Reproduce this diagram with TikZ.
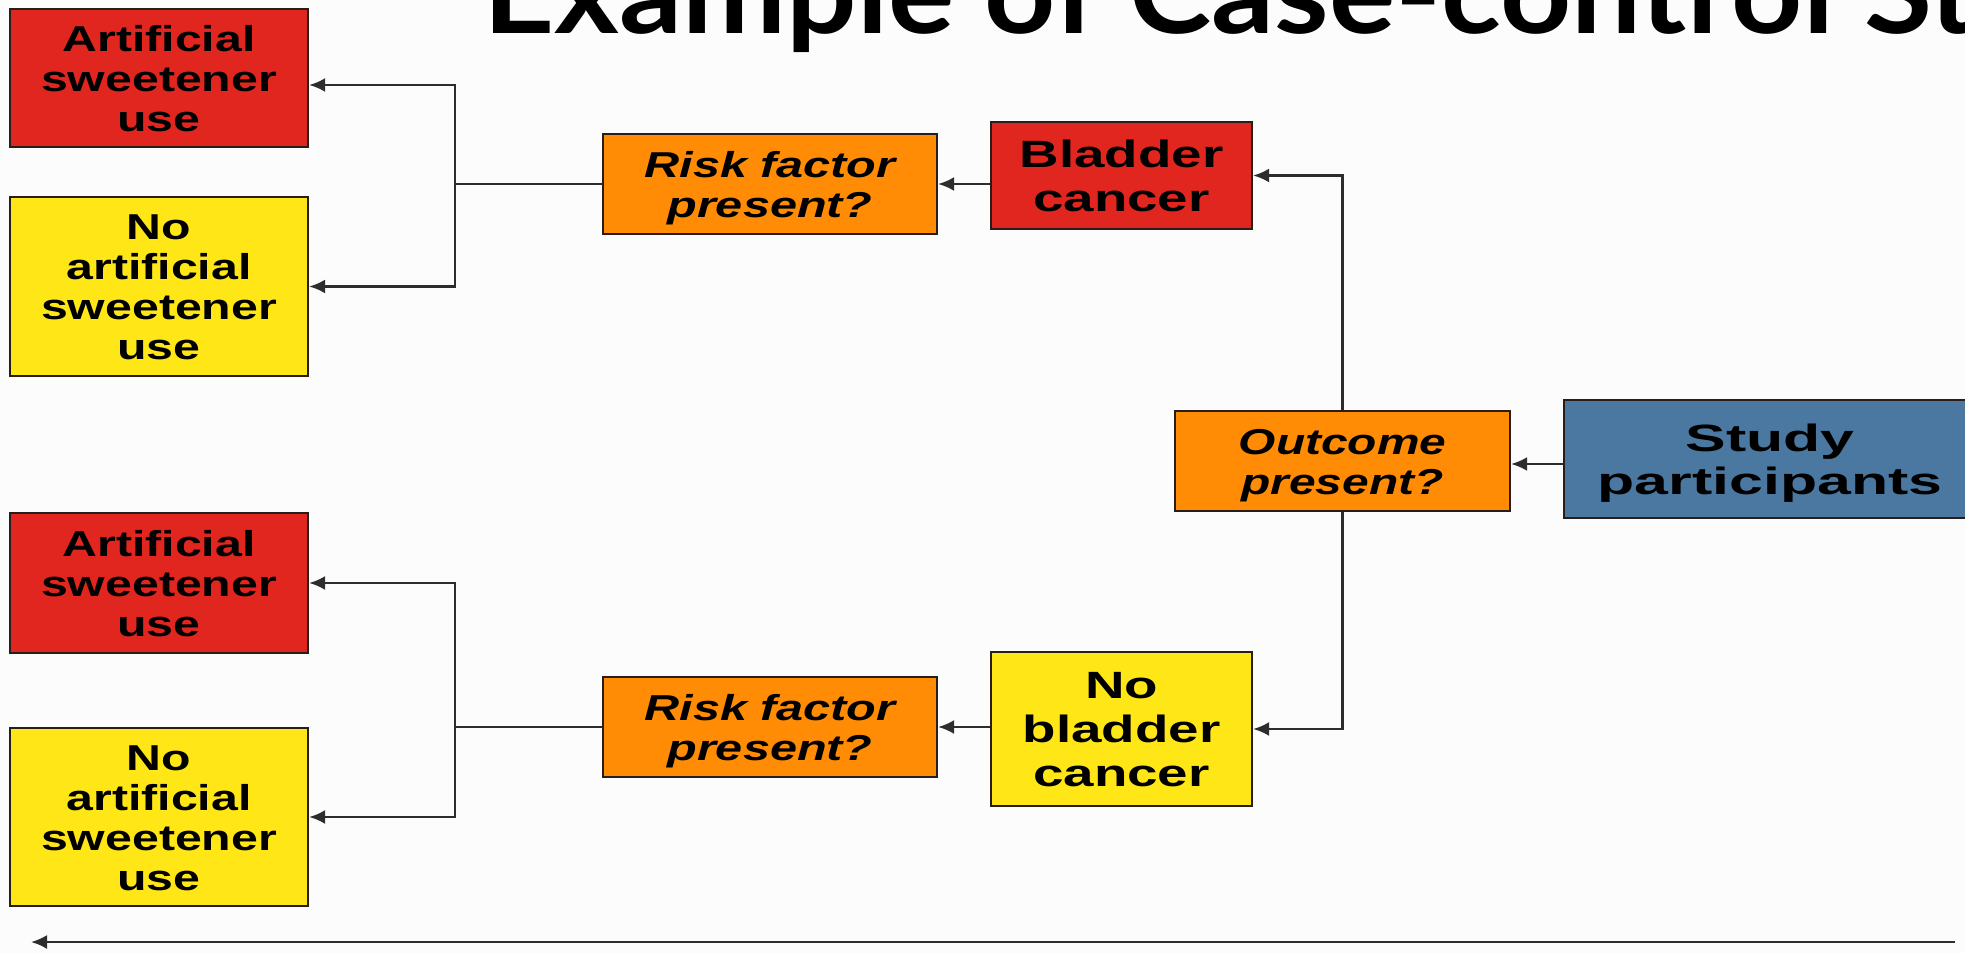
\documentclass[tikz,border=0pt]{standalone}
\usepackage{fontspec}
\setmainfont{Liberation Sans}
\newfontfamily\titlefont{Lato}
\usetikzlibrary{arrows.meta}
\definecolor{cred}{RGB}{224,38,30}
\definecolor{cyellow}{RGB}{255,230,22}
\definecolor{corange}{RGB}{255,140,4}
\definecolor{cblue}{RGB}{74,120,160}
\definecolor{cline}{RGB}{45,45,45}
\definecolor{cborder}{RGB}{40,30,25}
\newcommand\bx[2]{\raisebox{-2.5pt}[\height][\depth]{\scalebox{#1}[1]{\begin{tabular}{@{}c@{}}#2\end{tabular}}}}
\newlength\titlew
\begin{document}
\settowidth\titlew{\titlefont\bfseries\fontsize{57}{60}\selectfont Example of Case-control\ }%
\pgfmathsetmacro\tsx{690/\titlew}%
\begin{tikzpicture}[x=0.5pt,y=-0.5pt,
  box/.style={draw=cborder, line width=1.1pt, inner sep=0pt, align=center,
    font=\fontsize{18}{20}\selectfont\bfseries},
  bigbox/.style={box, font=\fontsize{19}{22}\selectfont\bfseries},
  conn/.style={draw=cline, line width=1.2pt},
  arr/.style={conn, -{Latex[length=8pt,width=7pt]}}]
\useasboundingbox (0,0) rectangle (1965,953);
\fill[white!98!gray] (0,0) rectangle (1965,953);
\clip (0,0) rectangle (1965,953);

% title
\node[anchor=base west, inner sep=0pt] (title) at (483,33)
  {\titlefont\bfseries\fontsize{57}{60}\selectfont\scalebox{\tsx}[1]{Example of Case-control Study}};

% boxes
\node[box, fill=cred, minimum width=149pt, minimum height=69pt] (A1) at (159,78)
  {\bx{1.34}{Artificial\\sweetener\\use}};
\node[box, fill=cyellow, minimum width=149pt, minimum height=89.5pt] (B1) at (159,286.5)
  {\bx{1.34}{No\\artificial\\sweetener\\use}};
\node[box, fill=corange, minimum width=167pt, minimum height=50pt] (R1) at (770,184)
  {\bx{1.35}{\itshape Risk factor\\\itshape present?}};
\node[bigbox, fill=cred, minimum width=130.5pt, minimum height=53.5pt] (BC) at (1121.5,175.5)
  {\bx{1.44}{Bladder\\cancer}};
\node[box, fill=corange, minimum width=167.5pt, minimum height=50pt] (OP) at (1342.5,461)
  {\bx{1.33}{\itshape Outcome\\\itshape present?}};
\node[box, fill=cblue, minimum width=206pt, minimum height=59pt,
  font=\fontsize{19}{21.5}\selectfont\bfseries] (SP) at (1770,459)
  {\bx{1.60}{Study\\participants}};
\node[box, fill=cred, minimum width=149pt, minimum height=70pt] (A2) at (159,583)
  {\bx{1.34}{Artificial\\sweetener\\use}};
\node[box, fill=cyellow, minimum width=149pt, minimum height=89pt] (B2) at (159,817)
  {\bx{1.34}{No\\artificial\\sweetener\\use}};
\node[box, fill=corange, minimum width=167pt, minimum height=50pt] (R2) at (770,727)
  {\bx{1.35}{\itshape Risk factor\\\itshape present?}};
\node[bigbox, fill=cyellow, minimum width=130.5pt, minimum height=77pt] (NB) at (1121.5,729)
  {\bx{1.44}{No\\bladder\\cancer}};

% junctions
\coordinate (j1) at (455,184);
\coordinate (j2) at (455,727);
\coordinate (bs) at (1955,942);
\coordinate (be) at (31,942);

% connectors
\draw[arr] ([yshift=-1.5pt]SP.west |- OP.east) -- ([yshift=-1.5pt]OP.east);
\draw[arr] (OP.north) |- (BC.east);
\draw[arr] (OP.south) |- (NB.east);
\draw[arr] (BC.west |- R1.east) -- (R1.east);
\draw[arr] (NB.west |- R2.east) -- (R2.east);
\draw[conn] (R1.west) -- (j1);
\draw[arr] (j1) |- ([yshift=-3.5pt]A1.east);
\draw[arr] (j1) |- (B1.east);
\draw[conn] (R2.west) -- (j2);
\draw[arr] (j2) |- (A2.east);
\draw[arr] (j2) |- (B2.east);
\draw[arr] (bs) -- (be);
\end{tikzpicture}
\end{document}
